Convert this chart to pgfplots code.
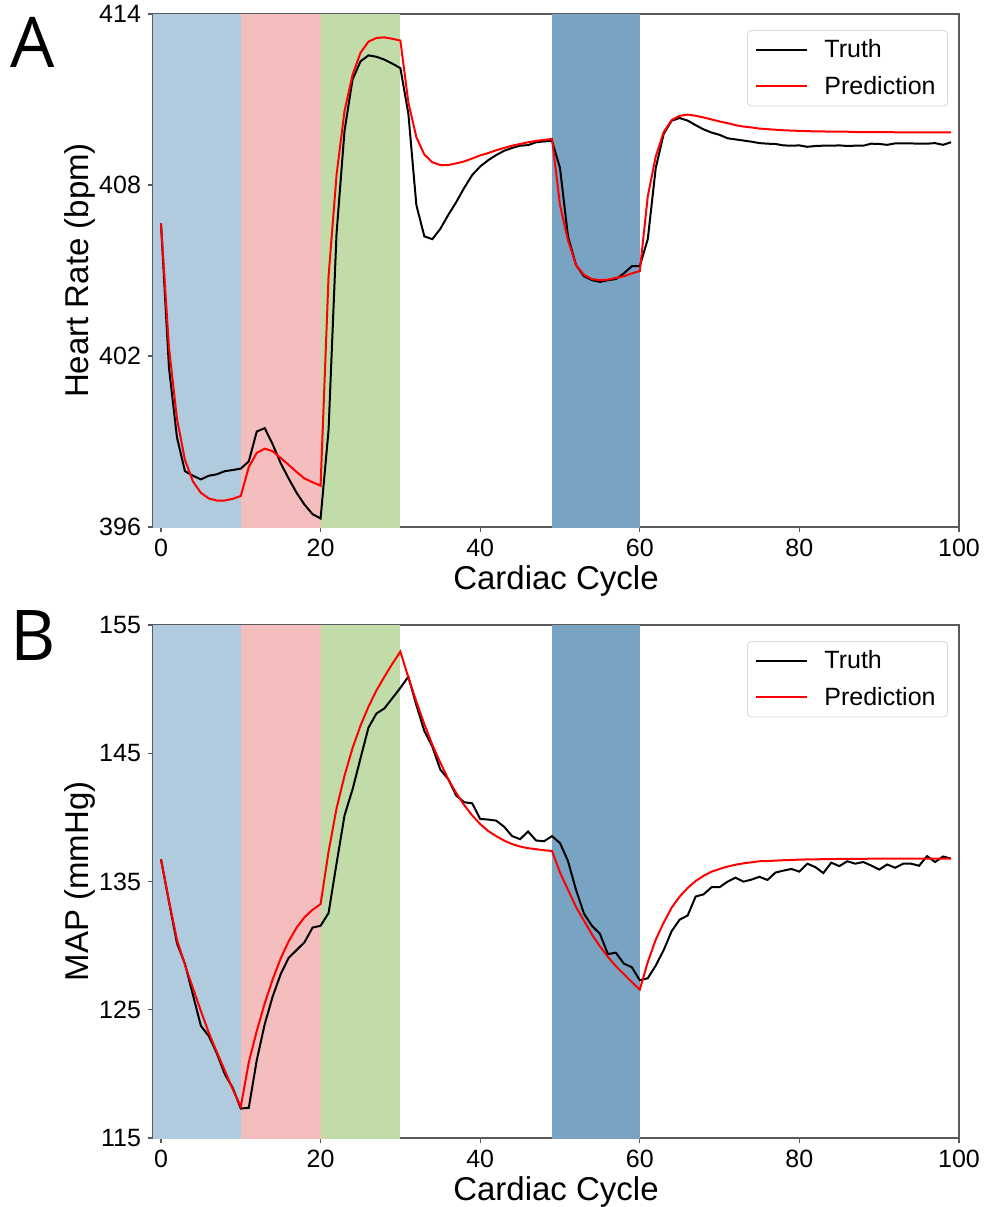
\documentclass[border=0pt]{standalone}
\usepackage{pgfplots}
\pgfplotsset{compat=1.18}
\usepackage{pgfplotstable}
\usepackage{fontspec}
\setmainfont{Liberation Sans}
\newfontfamily\panelfont{Open Sans}

\definecolor{lb}{RGB}{175,203,221}
\definecolor{pk}{RGB}{244,190,191}
\definecolor{gr}{RGB}{194,220,169}
\definecolor{db}{RGB}{121,163,195}
\definecolor{spine}{RGB}{90,90,90}

% heart rate: x, truth, prediction
\pgfplotstableread{
x truth pred
0 406.65 406.65
1 401.6 402.3
2 399.15 399.8
3 397.96 398.36
4 397.8 397.6
5 397.67 397.2
6 397.8 397.0
7 397.85 396.93
8 397.96 396.93
9 398.0 396.99
10 398.05 397.09
11 398.3 398.1
12 399.35 398.6
13 399.47 398.75
14 398.9 398.66
15 398.24 398.42
16 397.7 398.18
17 397.2 397.93
18 396.78 397.7
19 396.45 397.57
20 396.3 397.45
21 399.4 404.8
22 406.3 408.35
23 409.9 410.6
24 411.7 411.86
25 412.34 412.64
26 412.55 413.03
27 412.5 413.16
28 412.4 413.18
29 412.26 413.13
30 412.1 413.07
31 410.5 410.9
32 407.3 409.68
33 406.2 409.07
34 406.1 408.8
35 406.46 408.7
36 406.95 408.7
37 407.4 408.76
38 407.9 408.83
39 408.35 408.93
40 408.65 409.04
41 408.87 409.12
42 409.05 409.22
43 409.2 409.3
44 409.3 409.38
45 409.38 409.44
46 409.4 409.5
47 409.5 409.55
48 409.53 409.58
49 409.55 409.62
50 408.6 407.3
51 406.2 406.06
52 405.2 405.2
53 404.8 404.85
54 404.66 404.7
55 404.6 404.66
56 404.66 404.68
57 404.7 404.74
58 404.9 404.8
59 405.15 404.9
60 405.15 404.98
61 406.1 407.6
62 408.6 409.0
63 409.8 409.86
64 410.26 410.28
65 410.35 410.43
66 410.26 410.47
67 410.1 410.43
68 409.95 410.37
69 409.84 410.3
70 409.76 410.23
71 409.64 410.17
72 409.6 410.1
73 409.56 410.05
74 409.52 410.02
75 409.47 409.98
76 409.45 409.96
77 409.44 409.94
78 409.39 409.92
79 409.38 409.91
80 409.39 409.9
81 409.34 409.89
82 409.37 409.88
83 409.38 409.88
84 409.38 409.87
85 409.39 409.87
86 409.37 409.87
87 409.38 409.86
88 409.38 409.86
89 409.45 409.86
90 409.44 409.86
91 409.41 409.86
92 409.46 409.85
93 409.46 409.85
94 409.46 409.85
95 409.45 409.85
96 409.45 409.85
97 409.47 409.85
98 409.41 409.85
99 409.5 409.85
}\hrdata

% mean arterial pressure: x, truth, prediction
\pgfplotstableread{
x truth pred
0 136.74 136.74
1 133.43 133.5
2 130.2 130.47
3 128.59 128.5
4 126.17 126.7
5 123.75 124.9
6 122.94 123.2
7 121.6 121.7
8 119.98 120.25
9 118.9 118.8
10 117.3 117.43
11 117.35 120.9
12 121.06 123.34
13 123.88 125.5
14 126.04 127.38
15 127.78 129.0
16 129.05 130.34
17 129.66 131.41
18 130.28 132.22
19 131.41 132.8
20 131.55 133.24
21 132.54 137.33
22 136.4 140.7
23 140.15 143.25
24 142.17 145.4
25 144.6 147.15
26 147.0 148.63
27 148.1 149.9
28 148.5 150.97
29 149.3 151.99
30 150.1 152.93
31 150.97 150.9
32 148.76 149.03
33 146.74 147.28
34 145.53 145.67
35 143.73 144.27
36 142.98 142.98
37 141.7 141.9
38 141.18 140.96
39 141.1 140.15
40 139.88 139.48
41 139.83 138.94
42 139.75 138.54
43 139.27 138.19
44 138.54 137.92
45 138.3 137.73
46 138.9 137.6
47 138.2 137.52
48 138.14 137.44
49 138.54 137.38
50 138.0 135.7
51 136.6 134.37
52 134.37 133.03
53 132.5 131.95
54 131.55 130.88
55 130.93 129.95
56 129.34 129.13
57 129.45 128.4
58 128.6 127.78
59 128.32 127.16
60 127.3 126.57
61 127.46 128.72
62 128.45 130.47
63 129.66 131.8
64 131.14 132.97
65 132.03 133.83
66 132.35 134.5
67 133.83 135.04
68 134.0 135.45
69 134.56 135.77
70 134.56 135.98
71 134.99 136.17
72 135.3 136.31
73 134.99 136.42
74 135.15 136.5
75 135.37 136.58
76 135.12 136.6
77 135.7 136.63
78 135.85 136.66
79 135.98 136.68
80 135.77 136.71
81 136.39 136.72
82 136.12 136.73
83 135.66 136.74
84 136.47 136.75
85 136.2 136.76
86 136.58 136.76
87 136.39 136.77
88 136.52 136.77
89 136.25 136.78
90 135.93 136.78
91 136.33 136.78
92 136.07 136.79
93 136.39 136.79
94 136.39 136.79
95 136.23 136.79
96 136.98 136.79
97 136.52 136.79
98 136.95 136.79
99 136.79 136.79
}\mapdata

\pgfplotsset{
  panel/.style={
    scale only axis,
    width=403pt, height=256.5pt,
    xmin=-1, xmax=100,
    xtick={0,20,...,100},
    tick pos=left,
    tick align=outside,
    major tick length=2.5pt,
    axis line style={spine, line width=0.6pt},
    tick style={spine, line width=0.6pt},
    /pgf/number format/assume math mode=true,
    ticklabel style={font=\fontsize{12.5}{15}\selectfont},
    label style={font=\fontsize{16.5}{20}\selectfont},
    xlabel={Cardiac Cycle},
    xlabel style={at={(axis description cs:0.5,-0.106)}, anchor=center},
    ylabel style={at={(axis description cs:-0.0905,0.5)}, anchor=center, rotate=0},
    legend cell align=left,
    legend image code/.code={\draw[#1] (0pt,0pt) -- (25.5pt,0pt);},
    legend style={at={(1,1)}, anchor=north east, xshift=-5.5pt, yshift=-8pt,
      draw=black!15, rounded corners=2pt, fill=white,
      font=\fontsize{12.5}{15}\selectfont, row sep=3.7pt, inner xsep=4pt, inner ysep=2.5pt,
      /tikz/every odd column/.append style={column sep=6pt}},
  },
}

\begin{document}
\begin{tikzpicture}
\useasboundingbox (0,0) rectangle (493pt,-603.5pt);

\begin{axis}[panel, at={(76.5pt,-263.5pt)}, anchor=south west,
  ymin=396, ymax=414, ytick={396,402,408,414},
  ylabel={Heart Rate (bpm)}]
\addplot[draw=none, fill=lb, forget plot] coordinates {(-2,390) (-2,420) (10,420) (10,390)} -- cycle;
\addplot[draw=none, fill=pk, forget plot] coordinates {(10,390) (10,420) (20,420) (20,390)} -- cycle;
\addplot[draw=none, fill=gr, forget plot] coordinates {(20,390) (20,420) (30,420) (30,390)} -- cycle;
\addplot[draw=none, fill=db, forget plot] coordinates {(49,390) (49,420) (60,420) (60,390)} -- cycle;
\addplot[black, line width=1pt] table[x=x, y=truth] {\hrdata};
\addplot[red, line width=1pt] table[x=x, y=pred] {\hrdata};
\legend{Truth, Prediction}
\end{axis}

\begin{axis}[panel, at={(76.5pt,-569pt)}, anchor=south west,
  ymin=115, ymax=155, ytick={115,125,...,155},
  ylabel={MAP (mmHg)}]
\addplot[draw=none, fill=lb, forget plot] coordinates {(-2,100) (-2,170) (10,170) (10,100)} -- cycle;
\addplot[draw=none, fill=pk, forget plot] coordinates {(10,100) (10,170) (20,170) (20,100)} -- cycle;
\addplot[draw=none, fill=gr, forget plot] coordinates {(20,100) (20,170) (30,170) (30,100)} -- cycle;
\addplot[draw=none, fill=db, forget plot] coordinates {(49,100) (49,170) (60,170) (60,100)} -- cycle;
\addplot[black, line width=1pt] table[x=x, y=truth] {\mapdata};
\addplot[red, line width=1pt] table[x=x, y=pred] {\mapdata};
\legend{Truth, Prediction}
\end{axis}

\node[anchor=base west, inner sep=0pt, font=\panelfont\fontsize{35}{40}\selectfont] at (5pt,-33.5pt) {A};
\node[anchor=base west, inner sep=0pt, font=\panelfont\fontsize{35}{40}\selectfont] at (5pt,-330pt) {B};
\end{tikzpicture}
\end{document}
